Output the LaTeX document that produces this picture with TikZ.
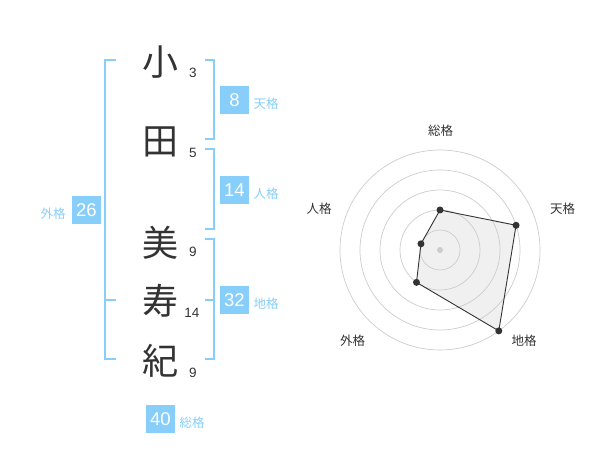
\documentclass[tikz,border=0pt]{standalone}
\usepackage{fontspec}
\setmainfont{Liberation Sans}
\newfontfamily\cjk{Noto Sans CJK JP}
\definecolor{sky}{HTML}{87CEFA}
\definecolor{ink}{HTML}{333333}
\definecolor{ring}{HTML}{CCCCCC}
\definecolor{area}{HTML}{F0F0F0}
\tikzset{
  bigchar/.style={inner sep=0pt, text=ink, font=\cjk\fontsize{36}{36}\selectfont},
  strokes/.style={inner sep=0pt, text=ink, font=\fontsize{13.5}{14}\selectfont},
  bracket/.style={draw=sky, line width=2pt},
  valbox/.style={fill=sky, text=white, minimum width=28.5pt, minimum height=28.5pt, inner sep=0pt, font=\fontsize{18.5}{19}\selectfont},
  vallabel/.style={inner sep=0pt, text=sky, font=\cjk\fontsize{12.5}{13}\selectfont},
  ringline/.style={draw=ring, line width=0.7pt},
  axislabel/.style={inner sep=0pt, text=ink, font=\cjk\fontsize{12.5}{13}\selectfont},
  vdot/.style={circle, fill=ink, inner sep=0pt, minimum size=7pt},
}
\begin{document}
\begin{tikzpicture}[x=1pt,y=-1pt]
\useasboundingbox (0,0) rectangle (600,470);
% characters
\node[bigchar] (c1) at (160,62) {小};
\node[bigchar] (c2) at (160,142) {田};
\node[bigchar] (c3) at (160,243) {美};
\node[bigchar] (c4) at (160,301) {寿};
\node[bigchar] (c5) at (160,361) {紀};
% stroke counts
\node[strokes] (s1) at (193,73) {3};
\node[strokes] (s2) at (193,153) {5};
\node[strokes] (s3) at (193,252) {9};
\node[strokes] (s4) at (192,313) {14};
\node[strokes] (s5) at (193,373) {9};
% brackets
\draw[bracket] (116,60) -- (105,60) -- (105,359) -- (116,359);
\draw[bracket] (105,300) -- (116,300);
\draw[bracket] (205,60) -- (214,60) -- (214,139) -- (205,139);
\draw[bracket] (205,149) -- (214,149) -- (214,229) -- (205,229);
\draw[bracket] (205,239) -- (214,239) -- (214,359) -- (205,359);
\draw[bracket] (205,300) -- (214,300);
% value boxes
\node[valbox] (ten) at (234.5,100) {8};
\node[vallabel] (tenl) at (266,104) {天格};
\node[valbox] (jin) at (234.5,190) {14};
\node[vallabel] (jinl) at (266,194) {人格};
\node[valbox] (chi) at (234.5,300) {32};
\node[vallabel] (chil) at (266,304) {地格};
\node[valbox] (gai) at (86.5,210) {26};
\node[vallabel] (gail) at (53,214) {外格};
\node[valbox] (sou) at (160.5,419) {40};
\node[vallabel] (soul) at (192,423) {総格};
% radar chart
\coordinate (rc) at (440,250);
\coordinate (pS) at (440,210);
\coordinate (pT) at (516.08,225.28);
\coordinate (pC) at (498.78,330.90);
\coordinate (pG) at (416.49,282.36);
\coordinate (pJ) at (420.98,243.82);
\fill[area] (pS) -- (pT) -- (pC) -- (pG) -- (pJ) -- cycle;
\foreach \r in {20,40,60,80,100} \draw[ringline] (rc) circle[radius=\r];
\draw[draw=ink, line width=0.9pt] (pS) -- (pT) -- (pC) -- (pG) -- (pJ) -- cycle;
\fill[ring] (rc) circle[radius=3];
\foreach \p in {pS,pT,pC,pG,pJ} \node[vdot] at (\p) {};
\node[axislabel] (aS) at (440.5,130.5) {総格};
\node[axislabel] (aT) at (562.5,208.5) {天格};
\node[axislabel] (aJ) at (319,208.5) {人格};
\node[axislabel] (aC) at (524,341) {地格};
\node[axislabel] (aG) at (352.5,341) {外格};
\end{tikzpicture}
\end{document}
